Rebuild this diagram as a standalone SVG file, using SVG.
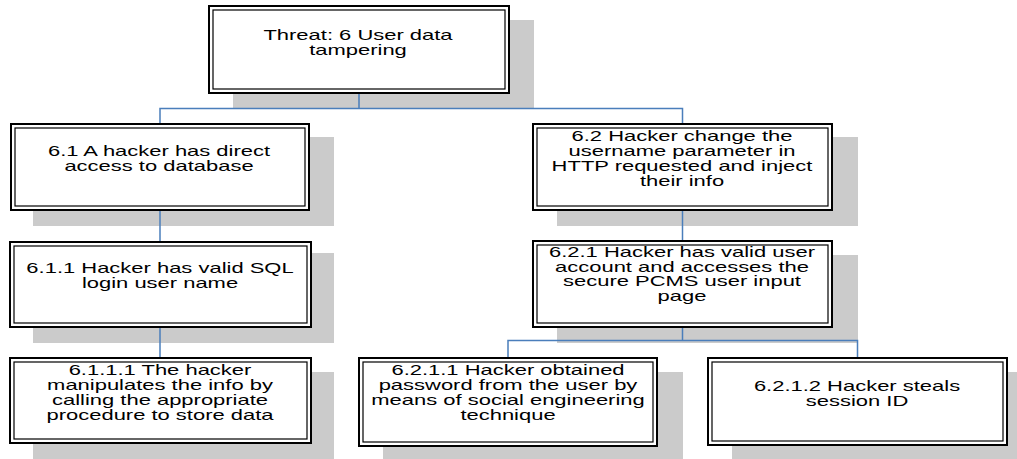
<svg xmlns="http://www.w3.org/2000/svg" width="1017" height="459" viewBox="0 0 1017 459">
<style>
.sh{fill:#cbcbcb;stroke:none}
.bo{fill:#fff;stroke:#000;stroke-width:2}
.bi{fill:none;stroke:#000;stroke-width:1.2}
.t{font-family:"Liberation Sans",Arial,sans-serif;font-size:14px;fill:#000;text-anchor:middle}
.c{fill:none;stroke:#4a7ebb;stroke-width:1.5}
</style>
<rect width="1017" height="459" fill="#fff"/>
<g id="n6">
<rect class="sh" x="233" y="20" width="301" height="88"/>
<rect class="bo" x="209" y="6" width="300" height="87"/>
<rect class="bi" x="213" y="10" width="292" height="79"/>
<text class="t" transform="matrix(1.57 0 0 1 358 0)"><tspan x="0" y="40">Threat: 6 User data</tspan><tspan x="0" y="55">tampering</tspan></text>
</g>
<g id="n6_1">
<rect class="sh" x="33" y="137" width="301" height="89"/>
<rect class="bo" x="11" y="124" width="298" height="86"/>
<rect class="bi" x="15" y="128" width="290" height="78"/>
<text class="t" transform="matrix(1.57 0 0 1 159 0)"><tspan x="0" y="156">6.1 A hacker has direct</tspan><tspan x="0" y="171">access to database</tspan></text>
</g>
<g id="n6_2">
<rect class="sh" x="557" y="137" width="301" height="89"/>
<rect class="bo" x="533" y="124" width="299" height="86"/>
<rect class="bi" x="537" y="128" width="291" height="78"/>
<text class="t" transform="matrix(1.57 0 0 1 682 0)"><tspan x="0" y="141.5">6.2 Hacker change the</tspan><tspan x="0" y="156.5">username parameter in</tspan><tspan x="0" y="171.5">HTTP requested and inject</tspan><tspan x="0" y="186.5">their info</tspan></text>
</g>
<g id="n6_1_1">
<rect class="sh" x="33" y="253" width="301" height="90"/>
<rect class="bo" x="10" y="242" width="301" height="85"/>
<rect class="bi" x="14" y="246" width="293" height="77"/>
<text class="t" transform="matrix(1.57 0 0 1 160 0)"><tspan x="0" y="273.5">6.1.1 Hacker has valid SQL</tspan><tspan x="0" y="288.5">login user name</tspan></text>
</g>
<g id="n6_1_1_1">
<rect class="sh" x="33" y="372" width="301" height="90"/>
<rect class="bo" x="10" y="358" width="301" height="85"/>
<rect class="bi" x="14" y="362" width="293" height="77"/>
<text class="t" transform="matrix(1.57 0 0 1 160 0)"><tspan x="0" y="375.5">6.1.1.1 The hacker</tspan><tspan x="0" y="390.5">manipulates the info by</tspan><tspan x="0" y="405.5">calling the appropriate</tspan><tspan x="0" y="420.5">procedure to store data</tspan></text>
</g>
<g id="n6_2_1">
<rect class="sh" x="557" y="255" width="301" height="88"/>
<rect class="bo" x="533" y="241" width="299" height="86"/>
<rect class="bi" x="537" y="245" width="291" height="78"/>
<text class="t" transform="matrix(1.57 0 0 1 682 0)"><tspan x="0" y="257">6.2.1 Hacker has valid user</tspan><tspan x="0" y="271.7">account and accesses the</tspan><tspan x="0" y="286.4">secure PCMS user input</tspan><tspan x="0" y="301">page</tspan></text>
</g>
<g id="n6_2_1_1">
<rect class="sh" x="383" y="372" width="300" height="90"/>
<rect class="bo" x="359" y="358" width="298" height="88"/>
<rect class="bi" x="363" y="362" width="290" height="80"/>
<text class="t" transform="matrix(1.57 0 0 1 508 0)"><tspan x="0" y="375">6.2.1.1 Hacker obtained</tspan><tspan x="0" y="390">password from the user by</tspan><tspan x="0" y="405">means of social engineering</tspan><tspan x="0" y="420">technique</tspan></text>
</g>
<g id="n6_2_1_2">
<rect class="sh" x="732" y="372" width="290" height="90"/>
<rect class="bo" x="708" y="358" width="299" height="87"/>
<rect class="bi" x="712" y="362" width="291" height="79"/>
<text class="t" transform="matrix(1.57 0 0 1 857 0)"><tspan x="0" y="391">6.2.1.2 Hacker steals</tspan><tspan x="0" y="406">session ID</tspan></text>
</g>
<g id="connectors">
<path class="c" d="M359 94V108.5M160 123V108.5H682.5V123"/>
<path class="c" d="M160 211V241"/>
<path class="c" d="M160 328V357"/>
<path class="c" d="M682.5 211V240"/>
<path class="c" d="M682.5 328V340.5M508 357V340.5H857.5V357"/>
</g>
</svg>
